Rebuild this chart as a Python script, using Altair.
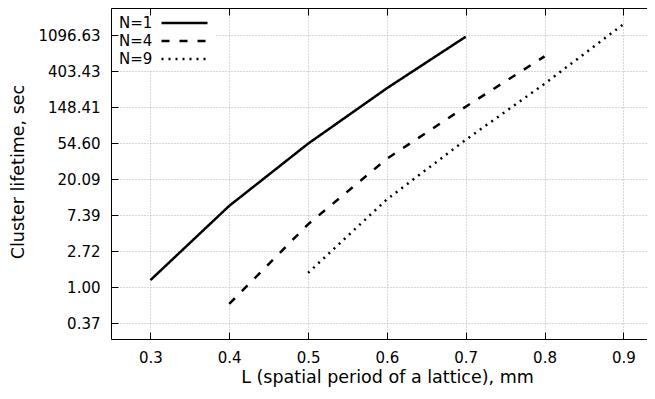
import math
import altair as alt
import pandas as pd

# ---- data ----
series = ["N=1", "N=4", "N=9"]
n1_L = [0.3, 0.4, 0.5, 0.6, 0.7]
n1_t = [1.22, 9.6, 54.0, 252.0, 1054.0]
n4_L = [0.4, 0.5, 0.6, 0.7, 0.8]
n4_t = [0.63, 5.75, 35.5, 151.0, 610.0]
n9_L = [0.5, 0.6, 0.7, 0.8, 0.9]
n9_t = [1.49, 11.5, 60.0, 285.0, 1490.0]

x_ticks = [0.3, 0.4, 0.5, 0.6, 0.7, 0.8, 0.9]
y_ticks = [math.exp(k) for k in range(-1, 8)]  # 0.37 ... 1096.63

rows = []
for name, xs_, ts_ in zip(series, [n1_L, n4_L, n9_L], [n1_t, n4_t, n9_t]):
    for a, b in zip(xs_, ts_):
        rows.append({"N": name, "L": a, "t": b})
df = pd.DataFrame(rows)

FONT = "DejaVu Sans"
GRID = "#b0b0b0"
xscale = alt.Scale(domain=[0.25, 0.93], nice=False, zero=False)
yscale = alt.Scale(type="log", base=math.e,
                   domain=[math.exp(-1.436), math.exp(7.758)], nice=False)


def X(axis):
    return alt.X("L:Q", scale=xscale, axis=axis)


def Y(axis):
    return alt.Y("t:Q", scale=yscale, axis=axis)


# grid layer (with the data lines)
grid_x = alt.Axis(orient="bottom", values=x_ticks, labels=False, ticks=False,
                  tickSize=0, domain=False, title=None, grid=True,
                  gridColor=GRID, gridDash=[1, 2], gridWidth=1, zindex=0)
grid_y = alt.Axis(orient="left", values=y_ticks, labels=False, ticks=False,
                  tickSize=0, domain=False, title=None, grid=True,
                  gridColor=GRID, gridDash=[1, 2], gridWidth=1, zindex=0)

legend = alt.Legend(
    orient="none", legendX=2, legendY=2, title=None,
    symbolType="M-2.706,0H2.706", symbolSize=289, symbolStrokeWidth=2.5,
    symbolStrokeColor="black", symbolFillColor="transparent",
    symbolOffset=58.5, labelOffset={"expr": "-75.5"},
    labelFont=FONT, labelFontSize=15, labelColor="black",
    rowPadding=0, padding=3,
    fillColor="white", zindex=1,
)

lines = alt.Chart(df).mark_line(strokeWidth=2.5, color="black").encode(
    x=X(grid_x),
    y=Y(grid_y),
    strokeDash=alt.StrokeDash(
        "N:N",
        scale=alt.Scale(domain=series, range=[[1, 0], [8, 10], [2, 5]]),
        legend=legend,
    ),
)

# main axes: labels, titles, border lines
main_x = alt.Axis(
    orient="bottom", values=x_ticks, format=".1f", labels=True,
    labelFont=FONT, labelFontSize=15, labelColor="black", labelPadding=11,
    ticks=False, tickSize=0, domain=True, domainColor="black", domainWidth=1,
    grid=False, title="L (spatial period of a lattice), mm",
    titleFont=FONT, titleFontSize=17.5, titleFontWeight="normal",
    titleColor="black", titleX=276, titleY=43, titleBaseline="alphabetic",
    zindex=2,
)
main_y = alt.Axis(
    orient="left", values=y_ticks, format=".2f", labels=True,
    labelFont=FONT, labelFontSize=15, labelColor="black", labelPadding=11,
    ticks=False, tickSize=0, domain=True, domainColor="black", domainWidth=1,
    grid=False, title="Cluster lifetime, sec",
    titleFont=FONT, titleFontSize=17.5, titleFontWeight="normal",
    titleColor="black", titleX=-88, titleY=163.5, titleAngle=270,
    titleBaseline="alphabetic", zindex=2,
)
axes_main = alt.Chart(df).mark_point(opacity=0).encode(x=X(main_x), y=Y(main_y))

# inward tick marks
tick_x = alt.Axis(orient="bottom", values=x_ticks, offset=-7, labels=False,
                  ticks=True, tickSize=7, tickColor="black", tickWidth=1,
                  domain=False, grid=False, title=None, zindex=2)
tick_y = alt.Axis(orient="left", values=y_ticks, offset=-7, labels=False,
                  ticks=True, tickSize=7, tickColor="black", tickWidth=1,
                  domain=False, grid=False, title=None, zindex=2)
axes_ticks = alt.Chart(df).mark_point(opacity=0).encode(x=X(tick_x), y=Y(tick_y))

# top border and mirrored ticks
top_dom = alt.Axis(orient="top", values=x_ticks, labels=False, ticks=False,
                   tickSize=0, domain=True, domainColor="black", domainWidth=1,
                   grid=False, title=None, zindex=2)
top_tick = alt.Axis(orient="top", values=x_ticks, offset=-7, labels=False,
                    ticks=True, tickSize=7, tickColor="black", tickWidth=1,
                    domain=False, grid=False, title=None, zindex=2)
axes_top1 = alt.Chart(df).mark_point(opacity=0).encode(x=X(top_dom), y=Y(None))
axes_top2 = alt.Chart(df).mark_point(opacity=0).encode(x=X(top_tick), y=Y(None))

chart = alt.layer(lines, axes_main, axes_ticks, axes_top1, axes_top2).resolve_axis(
    x="independent", y="independent"
).properties(
    width=536, height=331,
    autosize=alt.AutoSizeParams(type="none"),
    padding={"left": 103, "top": 0, "right": 0, "bottom": 48},
).configure_view(stroke=None).configure(background="white")

chart.save("out.html", embed_options={"renderer": "svg", "actions": False})
